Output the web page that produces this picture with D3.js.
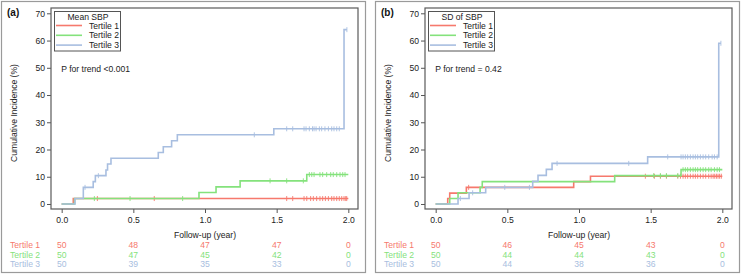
<!DOCTYPE html>
<html>
<head>
<meta charset="utf-8">
<script src="https://cdn.jsdelivr.net/npm/d3@7"></script>
<style>
  html, body { margin: 0; padding: 0; background: #fff; }
  svg text { font-family: "Liberation Sans", Arial, sans-serif; }
</style>
</head>
<body>
<svg id="chart" width="742" height="277"></svg>
<script>
// ---------- DATA ----------
const seriesNames = ["Tertile 1", "Tertile 2", "Tertile 3"];
const seriesColors = ["#f6796d", "#84e27c", "#a8bee0"];
const xTicks = [0.0, 0.5, 1.0, 1.5, 2.0];
const yTicks = [0, 10, 20, 30, 40, 50, 60, 70];

// Panel (a): Mean SBP
const a_T1_time = [0, 0.081];
const a_T1_pct  = [0, 2.0];
const a_T1_end  = 2.0;
const a_T1_cens = [0.249, 0.646, 1.570, 1.612, 1.691, 1.710, 1.737, 1.756, 1.779, 1.802, 1.821, 1.840, 1.861, 1.884, 1.900, 1.919, 1.937, 1.954, 1.970, 1.982, 1.989];

const a_T2_time = [0, 0.090, 0.958, 1.077, 1.245, 1.710];
const a_T2_pct  = [0, 2.0, 4.2, 6.3, 8.5, 10.8];
const a_T2_end  = 2.0;
const a_T2_cens = [0.228, 0.477, 0.844, 1.454, 1.570, 1.686, 1.728, 1.745, 1.761, 1.802, 1.821, 1.849, 1.877, 1.895, 1.919, 1.942, 1.961, 1.977];

const a_T3_time = [0, 0.093, 0.151, 0.220, 0.235, 0.309, 0.320, 0.344, 0.674, 0.709, 0.767, 0.807, 1.480, 1.970];
const a_T3_pct  = [0, 2.0, 6.1, 8.2, 10.4, 12.5, 14.7, 16.8, 18.9, 21.0, 23.2, 25.4, 27.6, 64.0];
const a_T3_end  = 1.99;
const a_T3_cens = [0.163, 0.256, 1.344, 1.570, 1.612, 1.691, 1.705, 1.728, 1.750, 1.761, 1.775, 1.798, 1.814, 1.837, 1.861, 1.884, 1.900, 1.919, 1.937, 1.990];

const a_risk_T1 = [50, 48, 47, 47, 0];
const a_risk_T2 = [50, 47, 45, 42, 0];
const a_risk_T3 = [50, 39, 35, 33, 0];

// Panel (b): SD of SBP
const b_T1_time = [0, 0.084, 0.098, 0.214, 0.963, 1.080];
const b_T1_pct  = [0, 2.0, 4.0, 6.1, 8.2, 10.2];
const b_T1_end  = 2.0;
const b_T1_cens = [0.230, 1.463, 1.526, 1.568, 1.610, 1.689, 1.708, 1.726, 1.742, 1.758, 1.777, 1.796, 1.812, 1.828, 1.847, 1.866, 1.884, 1.905, 1.922, 1.936, 1.947, 1.959, 1.970, 1.981, 1.993];

const b_T2_time = [0, 0.098, 0.156, 0.310, 0.325, 1.249, 1.712];
const b_T2_pct  = [0, 2.0, 4.1, 6.1, 8.2, 10.4, 12.6];
const b_T2_end  = 2.0;
const b_T2_cens = [1.521, 1.568, 1.610, 1.689, 1.726, 1.742, 1.758, 1.777, 1.796, 1.812, 1.828, 1.847, 1.866, 1.884, 1.905, 1.922, 1.945, 1.964, 1.980];

const b_T3_time = [0, 0.156, 0.233, 0.349, 0.677, 0.714, 0.772, 0.812, 1.479, 1.975];
const b_T3_pct  = [0, 2.0, 4.1, 6.1, 8.3, 10.5, 12.7, 14.9, 17.3, 59.0];
const b_T3_end  = 1.99;
const b_T3_cens = [0.172, 0.258, 0.482, 0.654, 0.847, 1.347, 1.619, 1.712, 1.726, 1.742, 1.758, 1.777, 1.796, 1.812, 1.828, 1.847, 1.866, 1.884, 1.905, 1.929, 1.945, 1.964, 1.990];

const b_risk_T1 = [50, 46, 45, 43, 0];
const b_risk_T2 = [50, 44, 44, 43, 0];
const b_risk_T3 = [50, 44, 38, 36, 0];

const panels = [
  { label: "(a)", legendTitle: "Mean SBP", pText: "P for trend <0.001", offset: 0,
    series: [
      { time: a_T1_time, pct: a_T1_pct, end: a_T1_end, cens: a_T1_cens },
      { time: a_T2_time, pct: a_T2_pct, end: a_T2_end, cens: a_T2_cens },
      { time: a_T3_time, pct: a_T3_pct, end: a_T3_end, cens: a_T3_cens }],
    risk: [a_risk_T1, a_risk_T2, a_risk_T3] },
  { label: "(b)", legendTitle: "SD of SBP", pText: "P for trend = 0.42", offset: 374,
    series: [
      { time: b_T1_time, pct: b_T1_pct, end: b_T1_end, cens: b_T1_cens },
      { time: b_T2_time, pct: b_T2_pct, end: b_T2_end, cens: b_T2_cens },
      { time: b_T3_time, pct: b_T3_pct, end: b_T3_end, cens: b_T3_cens }],
    risk: [b_risk_T1, b_risk_T2, b_risk_T3] }
];

// ---------- DRAW ----------
const svg = d3.select("#chart");
const plotL = 51, plotR = 358, plotT = 8, plotB = 209;
const FS = 8.6;

panels.forEach(p => {
  const g = svg.append("g").attr("transform", `translate(${p.offset},0)`);

  // outer frame
  g.append("rect").attr("x", 1.5).attr("y", 1.5).attr("width", 364).attr("height", 271)
    .attr("fill", "none").attr("stroke", "#9a9a9a").attr("stroke-width", 1.2);

  const x = d3.scaleLinear().domain([-0.0745, 2.0675]).range([plotL, plotR]);
  const y = d3.scaleLinear().domain([-1.84, 71.95]).range([plotB, plotT]);

  // axes
  const xAxis = g.append("g").attr("transform", `translate(0,${plotB})`)
    .call(d3.axisBottom(x).tickValues(xTicks).tickFormat(d3.format(".1f")).tickSize(4).tickPadding(4));
  const yAxis = g.append("g").attr("transform", `translate(${plotL},0)`)
    .call(d3.axisLeft(y).tickValues(yTicks).tickSize(4).tickPadding(2));
  [xAxis, yAxis].forEach(ax => {
    ax.select(".domain").remove();
    ax.selectAll("line").attr("stroke", "#555");
    ax.selectAll("text").attr("font-size", FS).attr("fill", "#222")
      .attr("font-family", "Liberation Sans, Arial, sans-serif");
  });

  // plot frame
  g.append("rect").attr("x", plotL).attr("y", plotT).attr("width", plotR - plotL).attr("height", plotB - plotT)
    .attr("fill", "none").attr("stroke", "#5a5a5a").attr("stroke-width", 1.2);

  // panel label
  g.append("text").attr("x", 7).attr("y", 15.5).text(p.label)
    .attr("font-size", 10).attr("font-weight", "bold").attr("fill", "#111");

  // y axis title
  g.append("text").attr("transform", `translate(17,113) rotate(-90)`).attr("text-anchor", "middle")
    .attr("font-size", FS).attr("fill", "#222").text("Cumulative Incidence (%)");

  // x axis title
  g.append("text").attr("x", (x(0) + x(2)) / 2).attr("y", 238).attr("text-anchor", "middle")
    .attr("font-size", FS).attr("fill", "#222").text("Follow-up (year)");

  // p text
  g.append("text").attr("x", x(0) - 0.5).attr("y", 72).attr("font-size", FS).attr("fill", "#222").text(p.pText);

  // curves
  const line = d3.line().x(d => x(d[0])).y(d => y(d[1])).curve(d3.curveStepAfter);
  p.series.forEach((s, i) => {
    const pts = s.time.map((t, k) => [t, s.pct[k]]);
    pts.push([s.end, s.pct[s.pct.length - 1]]);
    g.append("path").datum(pts).attr("d", line).attr("fill", "none")
      .attr("stroke", seriesColors[i]).attr("stroke-width", 1.6);
    // censor marks
    const levelAt = t => { let v = 0; s.time.forEach((tt, k) => { if (tt <= t) v = s.pct[k]; }); return v; };
    g.append("g").selectAll("line").data(s.cens).join("line")
      .attr("x1", d => x(d)).attr("x2", d => x(d))
      .attr("y1", d => y(levelAt(d)) - 2.5).attr("y2", d => y(levelAt(d)) + 2.5)
      .attr("stroke", seriesColors[i]).attr("stroke-width", 0.9);
  });

  // legend
  const lg = g.append("g");
  lg.append("rect").attr("x", 54.5).attr("y", 11.5).attr("width", 66).attr("height", 39.5)
    .attr("fill", "#fff").attr("stroke", "#555").attr("stroke-width", 1);
  lg.append("text").attr("x", 88).attr("y", 19.5).attr("text-anchor", "middle")
    .attr("font-size", FS).attr("fill", "#222").text(p.legendTitle);
  seriesNames.forEach((n, i) => {
    const yy = 25.5 + i * 9.8;
    lg.append("line").attr("x1", 56).attr("x2", 82).attr("y1", yy).attr("y2", yy)
      .attr("stroke", seriesColors[i]).attr("stroke-width", 1.6);
    lg.append("text").attr("x", 119).attr("y", yy + 3).attr("text-anchor", "end")
      .attr("font-size", FS).attr("fill", "#222").text(n);
  });

  // risk table
  p.risk.forEach((row, i) => {
    const yy = 248 + i * 9.7;
    g.append("text").attr("x", 10).attr("y", yy).attr("font-size", FS)
      .attr("fill", seriesColors[i]).text(seriesNames[i]);
    g.append("g").selectAll("text").data(row).join("text")
      .attr("x", (d, k) => x(xTicks[k])).attr("y", yy).attr("text-anchor", "middle")
      .attr("font-size", FS).attr("fill", seriesColors[i]).text(d => d);
  });
});
</script>
</body>
</html>
